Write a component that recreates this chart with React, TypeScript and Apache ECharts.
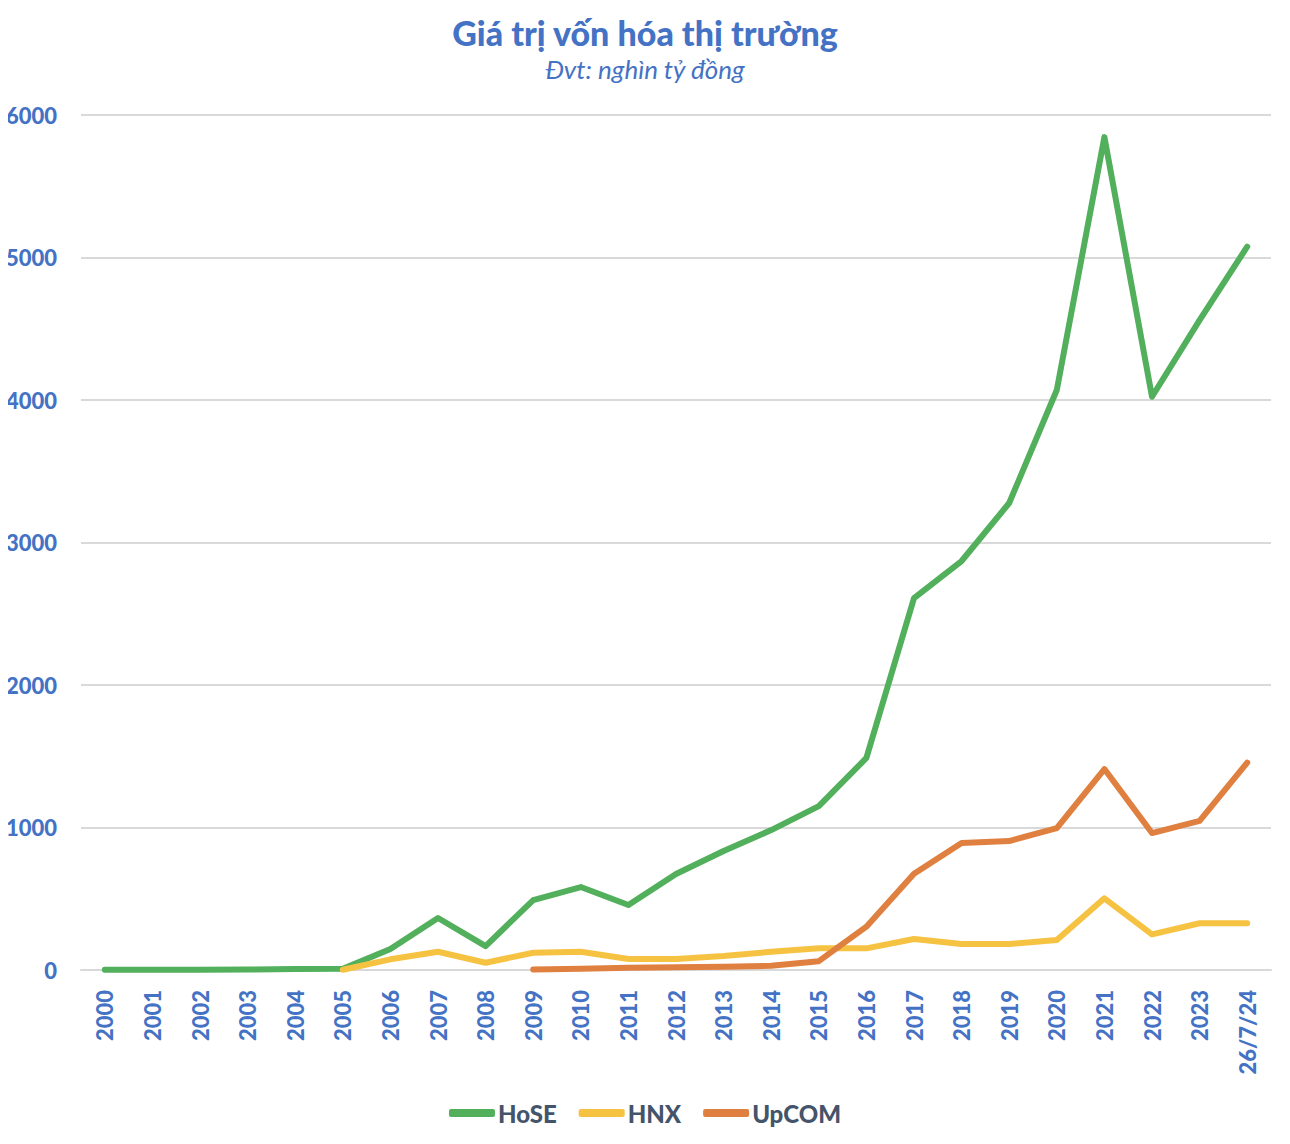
import React, { useEffect, useRef } from "react";
import * as echarts from "echarts";

const categories = [
  "2000", "2001", "2002", "2003", "2004", "2005", "2006", "2007", "2008", "2009",
  "2010", "2011", "2012", "2013", "2014", "2015", "2016", "2017", "2018", "2019",
  "2020", "2021", "2022", "2023", "26/7/24",
];

const hose = [
  1, 1, 2, 3, 7, 8, 147, 365, 168, 491,
  582, 456, 674, 835, 982, 1150, 1488, 2610, 2870, 3277,
  4070, 5845, 4023, 4560, 5076,
];

const hnx: (number | null)[] = [
  null, null, null, null, null, 2, 75, 128, 51, 121,
  128, 77, 77, 98, 128, 152, 152, 218, 182, 182,
  210, 503, 250, 328, 328,
];

const upcom: (number | null)[] = [
  null, null, null, null, null, null, null, null, null, 4,
  9, 15, 20, 22, 30, 62, 304, 675, 891, 905,
  996, 1410, 961, 1046, 1455,
];

const yTicks = { min: 0, max: 6000, interval: 1000 };

const BLUE = "#4472C4";
const GREEN = "#52AF5B";
const YELLOW = "#F6C242";
const ORANGE = "#E08040";
const FONT = "Lato, 'Open Sans', sans-serif";

export default function App() {
  const ref = useRef<HTMLDivElement>(null);

  useEffect(() => {
    if (!ref.current) return;
    const chart = echarts.init(ref.current, undefined, { renderer: "svg" });
    const lineSeries = (name: string, data: (number | null)[], color: string) => ({
      name,
      type: "line",
      data,
      symbol: "none",
      connectNulls: false,
      lineStyle: { width: 6, color, cap: "round", join: "round" },
      itemStyle: { color },
    });
    chart.setOption({
      animation: false,
      backgroundColor: "#ffffff",
      title: {
        text: "Giá trị vốn hóa thị trường",
        subtext: "Đvt: nghìn tỷ đồng",
        left: "center",
        top: 10,
        itemGap: 7,
        textStyle: { color: BLUE, fontSize: 34, fontWeight: 900, fontFamily: FONT },
        subtextStyle: { color: BLUE, fontSize: 26, fontStyle: "italic", fontFamily: FONT },
      },
      legend: {
        bottom: 14,
        left: "center",
        itemWidth: 46,
        itemHeight: 8,
        itemGap: 22,
        icon: "roundRect",
        textStyle: { color: "#44546A", fontSize: 24, fontWeight: 900, fontFamily: FONT, padding: [0, 0, 0, -2] },
        data: ["HoSE", "HNX", "UpCOM"],
      },
      grid: { left: 81, right: 19, top: 115, bottom: 174, containLabel: false },
      xAxis: {
        type: "category",
        data: categories,
        boundaryGap: true,
        axisLine: { lineStyle: { color: "#D9D9D9", width: 2 } },
        axisTick: { show: false },
        axisLabel: {
          rotate: 90,
          interval: 0,
          margin: 20,
          color: BLUE,
          fontSize: 22,
          fontWeight: 900,
          fontFamily: FONT,
        },
      },
      yAxis: {
        type: "value",
        min: yTicks.min,
        max: yTicks.max,
        interval: yTicks.interval,
        axisLine: { show: false },
        axisTick: { show: false },
        splitLine: { lineStyle: { color: "#D9D9D9", width: 2 } },
        axisLabel: {
          margin: 24,
          color: BLUE,
          fontSize: 22,
          fontWeight: 900,
          fontFamily: FONT,
          formatter: (v: number) => String(v),
        },
      },
      series: [
        lineSeries("HoSE", hose, GREEN),
        lineSeries("HNX", hnx, YELLOW),
        lineSeries("UpCOM", upcom, ORANGE),
      ],
    });
    return () => chart.dispose();
  }, []);

  return <div ref={ref} style={{ width: 1290, height: 1144, margin: -8 }} />;
}
